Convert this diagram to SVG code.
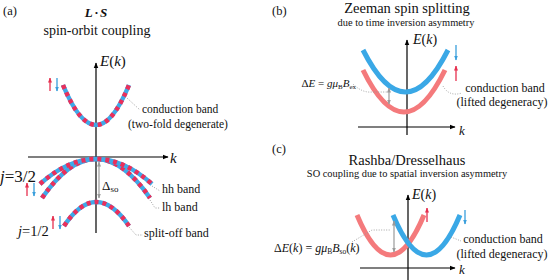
<svg xmlns="http://www.w3.org/2000/svg" width="550" height="280" viewBox="0 0 550 280" font-family="'Liberation Serif', 'Times New Roman', Times, serif">
<style>
text{font-family:'Liberation Serif','Times New Roman',Times,serif;fill:#111}
.it{font-style:italic}
.axis{stroke:#000;stroke-width:1.2;fill:none;marker-end:url(#ax)}
.bb{stroke:#3fa9e8;stroke-width:4.5;fill:none}
.rd{stroke:#ea2f5b;stroke-width:4.5;fill:none;stroke-dasharray:4 4}
.blue{stroke:#3aa8e6;stroke-width:5;fill:none}
.salmon{stroke:#f47a7c;stroke-width:5;fill:none}
.lead{stroke:#9a9a9a;stroke-width:0.9;fill:none;stroke-dasharray:1 1.5}
.gap{stroke:#9a9a9a;stroke-width:1.2;fill:none;marker-start:url(#ga);marker-end:url(#ga)}
.up{stroke:#e6304f;stroke-width:1.3;marker-end:url(#ra)}
.dn{stroke:#3a9fdc;stroke-width:1.3;marker-end:url(#ba)}
</style>
<defs>
<marker id="ax" viewBox="0 0 10 10" refX="9" refY="5" markerWidth="6" markerHeight="6" markerUnits="userSpaceOnUse" orient="auto"><path d="M0,1 L10,5 L0,9 z" fill="#000"/></marker>
<marker id="ga" viewBox="0 0 10 10" refX="9" refY="5" markerWidth="5" markerHeight="5" markerUnits="userSpaceOnUse" orient="auto-start-reverse"><path d="M0,1 L10,5 L0,9 z" fill="#9a9a9a"/></marker>
<marker id="ra" viewBox="0 0 10 10" refX="9" refY="5" markerWidth="5" markerHeight="5" markerUnits="userSpaceOnUse" orient="auto"><path d="M0,1 L10,5 L0,9 z" fill="#e6304f"/></marker>
<marker id="ba" viewBox="0 0 10 10" refX="9" refY="5" markerWidth="5" markerHeight="5" markerUnits="userSpaceOnUse" orient="auto"><path d="M0,1 L10,5 L0,9 z" fill="#3a9fdc"/></marker>
</defs>

<!-- Panel (a) -->
<g id="panel-a-titles">
<text x="3" y="15" font-size="12.5">(a)</text>
<text x="97" y="17" font-size="13" font-weight="bold" font-style="italic" text-anchor="middle" letter-spacing="2">L·S</text>
<text x="97" y="35" font-size="14" text-anchor="middle">spin-orbit coupling</text>
</g>
<g id="panel-a-axes">
<line class="axis" x1="96" y1="233" x2="96" y2="63"/>
<line class="axis" x1="28" y1="157" x2="168" y2="157"/>
<text x="100" y="66" font-size="15"><tspan class="it">E</tspan>(<tspan class="it">k</tspan>)</text>
<text x="170" y="163" font-size="15" class="it">k</text>
</g>
<g id="a-conduction">
<path class="bb" d="M63,85 Q96,165 129,85"/>
<path class="rd" d="M63,85 Q96,165 129,85"/>
<text x="142" y="113" font-size="11.5">conduction band</text>
<text x="128" y="128" font-size="11.5">(two-fold degenerate)</text>
<line class="up" x1="50" y1="91" x2="50" y2="78"/>
<line class="dn" x1="57" y1="78" x2="57" y2="91"/>
</g>
<g id="a-lh">
<path class="bb" d="M42,198 Q96,120 150,198"/>
<path class="rd" d="M42,198 Q96,120 150,198"/>
<text x="162" y="211" font-size="12">lh band</text>
</g>
<g id="a-hh">
<path class="bb" d="M40,184 Q96,134 152,184"/>
<path class="rd" d="M40,184 Q96,134 152,184"/>
<text x="162" y="193" font-size="12">hh band</text>
</g>
<g id="a-j32">
<text x="0" y="182" font-size="17"><tspan class="it">j</tspan>=3/2</text>
<line class="up" x1="27" y1="196" x2="27" y2="183"/>
<line class="dn" x1="34" y1="183" x2="34" y2="196"/>
</g>
<g id="a-splitoff">
<path class="bb" d="M64,226 Q96,178 129,226"/>
<path class="rd" d="M64,226 Q96,178 129,226"/>
<text x="144" y="237" font-size="12">split-off band</text>
<text x="18" y="236" font-size="14.5"><tspan class="it">j</tspan>=1/2</text>
<line class="up" x1="53" y1="229" x2="53" y2="216"/>
<line class="dn" x1="60" y1="216" x2="60" y2="229"/>
</g>
<g id="a-dso">
<text x="102" y="190" font-size="13">Δ<tspan font-size="9" dy="2">so</tspan></text>
</g>

<!-- Panel (b) -->
<g id="panel-b-titles">
<text x="272" y="15" font-size="12.5">(b)</text>
<text x="407" y="13" font-size="14.5" text-anchor="middle">Zeeman spin splitting</text>
<text x="406" y="26" font-size="10.4" text-anchor="middle">due to time inversion asymmetry</text>
</g>
<g id="panel-b-axes">
<line class="axis" x1="407" y1="135" x2="407" y2="40"/>
<line class="axis" x1="358" y1="127" x2="455" y2="127"/>
<text x="413" y="44" font-size="14"><tspan class="it">E</tspan>(<tspan class="it">k</tspan>)</text>
<text x="459" y="135" font-size="13" class="it">k</text>
</g>
<g id="b-down-band">
<path class="blue" d="M363,50 Q405.5,134 448,50"/>
<line class="dn" x1="456" y1="45" x2="456" y2="60"/>
</g>
<g id="b-up-band">
<path class="salmon" d="M363,70 Q404,154 445,70"/>
<line class="up" x1="456" y1="81" x2="456" y2="66"/>
</g>
<g id="b-gap-label">
<text x="356" y="87" font-size="11" text-anchor="end">Δ<tspan class="it">E</tspan> = <tspan class="it">gμ</tspan><tspan font-size="7" dy="2">B</tspan><tspan class="it" dy="-2">B</tspan><tspan font-size="7" dy="2">ex</tspan></text>
</g>
<g id="b-cb-label">
<text x="505" y="92" font-size="12" text-anchor="middle">conduction band</text>
<text x="502" y="106" font-size="12" text-anchor="middle">(lifted degeneracy)</text>
</g>

<!-- Panel (c) -->
<g id="panel-c-titles">
<text x="272" y="153" font-size="12.5">(c)</text>
<text x="407" y="165" font-size="14.5" text-anchor="middle">Rashba/Dresselhaus</text>
<text x="407" y="177" font-size="10.4" text-anchor="middle">SO coupling due to spatial inversion asymmetry</text>
</g>
<g id="panel-c-axes">
<line class="axis" x1="408" y1="280" x2="408" y2="195"/>
<line class="axis" x1="360" y1="268" x2="455" y2="268"/>
<text x="412" y="199" font-size="14"><tspan class="it">E</tspan>(<tspan class="it">k</tspan>)</text>
<text x="459" y="274" font-size="13" class="it">k</text>
</g>
<g id="c-up-band">
<path class="salmon" d="M357,215 Q390.5,295 424,215"/>
<line class="up" x1="427" y1="222" x2="427" y2="208"/>
</g>
<g id="c-down-band">
<path class="blue" d="M393,215 Q426.5,295 460,215"/>
<line class="dn" x1="465" y1="210" x2="465" y2="224"/>
</g>
<g id="c-gap-label">
<text x="274" y="252" font-size="12">Δ<tspan class="it">E</tspan>(<tspan class="it">k</tspan>) = <tspan class="it">gμ</tspan><tspan font-size="7.5" dy="2">B</tspan><tspan class="it" dy="-2">B</tspan><tspan font-size="7.5" dy="2">so</tspan><tspan dy="-2">(</tspan><tspan class="it">k</tspan>)</text>
</g>
<g id="c-cb-label">
<text x="503" y="243" font-size="12" text-anchor="middle">conduction band</text>
<text x="502" y="258" font-size="12" text-anchor="middle">(lifted degeneracy)</text>
</g>

<!-- Connectors: leaders and gap arrows -->
<g id="connectors">
<path class="lead" d="M127,98 L140,110"/>
<path class="lead" d="M152,186 L160,191"/>
<path class="lead" d="M150,200 L155,208 L160,208"/>
<path class="lead" d="M129,227 L136,235 L143,235"/>
<line class="gap" x1="99" y1="162" x2="99" y2="198"/>
<path class="lead" d="M353,84 Q362,93 372,92 L387,92"/>
<line class="gap" x1="389" y1="88" x2="389" y2="104"/>
<path class="lead" d="M443,86 Q449,97 462,93"/>
<path class="lead" d="M352,242 L372,230 L391,230"/>
<line class="gap" x1="394" y1="221" x2="394" y2="252"/>
<path class="lead" d="M451,237 L461,241"/>
</g>
</svg>
